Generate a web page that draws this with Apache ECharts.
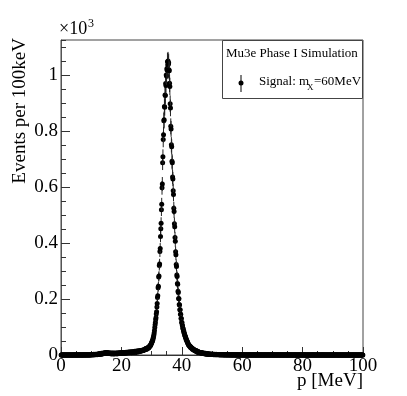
<!DOCTYPE html>
<html>
<head>
<meta charset="utf-8">
<script src="https://cdn.jsdelivr.net/npm/echarts@6/dist/echarts.min.js"></script>
<style>
  html, body { margin: 0; padding: 0; background: #fff; }
  #chart { width: 407px; height: 396px; }
</style>
</head>
<body>
<div id="chart"></div>
<script>
// histogram: 1000 bins of 100 keV from 0 to 100 MeV
const binWidth = 0.1;
const yMax = 1127;

// 0 - 10 MeV
const bg0 = [
  0,0,0,0,0,0,0,0,0,0, 0,0,0,0,0,0,0,0,0,0,
  0,0,0,0,0,0,0,0,0,0, 0,0,0,0,0,0,0,0,0,0,
  0,0,0,0,1,0,0,0,0,0, 0,0,0,0,0,0,0,1,0,0,
  0,0,1,0,0,0,0,1,0,0, 0,0,0,1,0,0,1,0,0,0,
  1,0,0,1,0,0,1,0,1,0, 0,1,0,0,1,1,0,1,0,1
];
// 10 - 28 MeV
const bg1 = [
  1,2,1,1,2,0,2,1,3,1, 2,1,2,3,1,2,2,3,2,1,
  3,2,4,3,2,4,3,5,3,4, 4,5,3,6,4,5,6,4,5,5,
  6,7,5,6,8,5,7,8,6,7, 7,9,6,7,8,6,7,6,7,5,
  7,5,6,7,5,6,4,6,5,7, 5,6,4,5,7,5,6,4,6,5,
  6,5,7,5,6,4,7,6,5,7, 6,5,7,6,8,5,7,6,8,7,
  6,8,7,9,6,8,7,9,8,7, 9,8,6,9,8,10,7,9,8,10,
  9,8,10,9,11,8,10,9,11,10, 9,11,10,8,12,10,9,11,10,12,
  11,10,12,11,13,10,12,11,13,12, 11,14,12,13,11,14,13,12,15,13,
  14,13,15,14,16,15,14,17,15,16, 17,16,18,17,19,18,20,19,21,22
];
// 28 - 46 MeV
const peak = [
  21,23,20,24,22,25,23,26,24,27,
  28,27,30,31,33,32,36,37,40,42,
  45,47,50,53,57,62,66,72,79,88,
  98,108,116,127,133,147,155,172,184,206,
  212,241,246,279,283,320,326,370,381,424,
  452,471,520,539,598,612,688,709,771,788,
  838,842,889,886,930,928,971,964,1002,998,
  1024,1019,1049,1038,1052,1040,1046,1021,1017,972,
  961,899,884,818,809,752,745,693,688,637,
  630,588,574,525,513,470,459,420,407,369,
  359,324,317,286,281,256,253,228,224,202,
  201,181,179,162,162,146,146,131,131,116,
  116,107,104,96,94,87,86,79,78,72,
  70,65,64,58,58,53,52,48,47,43,
  42,38,38,35,35,32,32,29,30,27,
  28,25,26,23,24,21,22,20,21,18,
  19,17,18,16,17,14,16,13,15,12,
  13,11,13,10,12,9,11,10,9,8
];
// 46 - 100 MeV
const tail = [
  9,8,9,7,8,7,8,6,7,6, 7,6,5,6,5,6,4,5,6,4,
  5,4,5,3,4,5,3,4,3,4, 3,4,3,2,3,4,2,3,2,3,
  2,3,2,2,3,1,2,3,2,1, 2,2,1,3,2,1,2,1,2,2,
  1,2,1,2,1,1,2,0,1,2, 1,1,2,1,0,1,2,1,1,0,
  1,1,0,2,1,0,1,1,0,1, 1,0,1,1,0,1,0,1,1,0,
  0,1,1,0,1,0,0,1,0,1, 0,1,0,0,1,0,1,0,0,1,
  0,0,1,0,1,0,0,0,1,0, 0,1,0,0,0,1,0,0,1,0,
  0,0,0,1,0,0,0,0,1,0, 0,0,1,0,0,0,0,0,1,0,
  0,0,0,0,1,0,0,0,0,0, 1,0,0,0,0,0,0,1,0,0,
  0,1,0,0,0,0,0,0,0,1, 0,0,0,0,0,1,0,0,0,0,
  0,0,0,1,0,0,0,0,0,0, 0,0,1,0,0,0,0,0,0,0,
  1,0,0,0,0,0,0,1,0,0, 0,0,0,0,0,0,1,0,0,0,
  0,0,0,0,0,1,0,0,0,0, 0,0,0,0,0,0,0,0,1,0,
  0,0,0,0,0,0,0,0,0,0, 1,0,0,0,0,0,0,0,0,0,
  0,0,0,1,0,0,0,0,0,0, 0,0,0,0,0,0,0,1,0,0,
  0,0,0,0,0,0,0,0,0,0, 0,0,0,0,1,0,0,0,0,0,
  0,0,0,0,0,0,0,0,1,0, 0,0,0,0,0,0,0,0,0,0,
  0,0,0,0,0,1,0,0,0,0, 0,0,0,0,0,0,0,0,0,0,
  0,0,0,0,0,0,0,0,0,0, 0,0,0,1,0,0,0,0,0,0,
  0,0,0,0,0,0,0,0,0,0, 0,0,0,0,0,0,0,0,0,0,
  0,0,0,0,0,0,1,0,0,0, 0,0,0,0,0,0,0,0,0,0,
  0,0,0,0,0,0,0,0,0,0, 0,0,0,0,0,0,0,0,0,0,
  0,0,0,0,0,0,0,0,0,0, 0,1,0,0,0,0,0,0,0,0,
  0,0,0,0,0,0,0,0,0,0, 0,0,0,0,0,0,0,0,0,0,
  0,0,0,0,0,0,0,0,0,0, 0,0,0,0,0,0,0,0,0,0,
  0,0,0,0,0,0,0,0,0,0, 0,0,0,0,0,0,0,0,0,0,
  0,0,0,0,0,0,0,0,0,0, 0,0,0,0,0,0,0,0,0,0
];

const counts = bg0.concat(bg1, peak, tail);
const points = counts.map((n, i) => [binWidth * (i + 0.5), n]);

const serif = 'Liberation Serif';
const chart = echarts.init(document.getElementById('chart'));

function renderBin(params, api) {
  const x = api.value(0);
  const n = api.value(1);
  const p = api.coord([x, n]);
  const err = Math.sqrt(n);
  const hi = api.coord([x, n + err]);
  const lo = api.coord([x, Math.max(0, n - err)]);
  return {
    type: 'group',
    children: [
      {
        type: 'line',
        shape: { x1: p[0], y1: hi[1], x2: p[0], y2: lo[1] },
        style: { stroke: '#222', lineWidth: 1 }
      },
      {
        type: 'circle',
        shape: { cx: p[0], cy: p[1], r: 2.5 },
        style: { fill: '#000' }
      }
    ]
  };
}

chart.setOption({
  animation: false,
  grid: {
    left: 61, right: 44, top: 40, bottom: 41,
    show: true, borderColor: '#444', borderWidth: 1
  },
  xAxis: {
    type: 'value', min: 0, max: 100, interval: 20,
    axisLine: { lineStyle: { color: '#333', width: 1 } },
    axisTick: { inside: true, length: 8, lineStyle: { color: '#333' } },
    minorTick: { show: true, splitNumber: 4, length: 4, lineStyle: { color: '#333' } },
    splitLine: { show: false },
    axisLabel: { fontFamily: serif, fontSize: 19, color: '#000', margin: 2 }
  },
  yAxis: [
    {
      type: 'value', min: 0, max: yMax, interval: 200,
      axisLine: { show: true, lineStyle: { color: '#555', width: 1 } },
      axisTick: { inside: true, length: 9, lineStyle: { color: '#333' } },
      splitLine: { show: false },
      axisLabel: {
        fontFamily: serif, fontSize: 19, color: '#000', margin: 3,
        showMaxLabel: false,
        formatter: v => v === 0 ? '0' : (v === 1000 ? '1' : (v / 1000).toFixed(1))
      }
    },
    {
      type: 'value', min: 0, max: yMax, interval: 50, position: 'left', offset: 0,
      axisLine: { show: false },
      axisTick: { inside: true, length: 5, lineStyle: { color: '#333' } },
      splitLine: { show: false },
      axisLabel: { show: false }
    }
  ],
  series: [{
    type: 'custom',
    renderItem: renderBin,
    encode: { x: 0, y: 1 },
    clip: false,
    data: points
  }],
  graphic: [
    { type: 'text', left: 59, top: 20,
      style: { text: '×10', font: '18px "Liberation Serif"', fill: '#000' } },
    { type: 'text', left: 88, top: 18,
      style: { text: '3', font: '12px "Liberation Serif"', fill: '#000' } },
    { type: 'text', x: 20, y: 38, rotation: Math.PI / 2,
      style: { text: 'Events per 100keV', font: '19px "Liberation Serif"', fill: '#000',
               align: 'right', verticalAlign: 'middle' } },
    { type: 'text', x: 363, y: 381,
      style: { text: 'p [MeV]', font: '19px "Liberation Serif"', fill: '#000',
               align: 'right', verticalAlign: 'middle' } },
    { type: 'rect', shape: { x: 222.5, y: 40.5, width: 140, height: 58 },
      style: { fill: '#fff', stroke: '#444', lineWidth: 1 } },
    { type: 'text', x: 226, y: 54,
      style: { text: 'Mu3e Phase I Simulation', font: '13px "Liberation Serif"', fill: '#000',
               verticalAlign: 'middle' } },
    { type: 'line', shape: { x1: 241, y1: 75, x2: 241, y2: 92 },
      style: { stroke: '#000', lineWidth: 1 } },
    { type: 'circle', shape: { cx: 241, cy: 83, r: 2.5 }, style: { fill: '#000' } },
    { type: 'text', x: 259, y: 82,
      style: { text: 'Signal: m', font: '13px "Liberation Serif"', fill: '#000',
               verticalAlign: 'middle' } },
    { type: 'text', x: 307, y: 88,
      style: { text: 'X', font: '9px "Liberation Serif"', fill: '#000',
               verticalAlign: 'middle' } },
    { type: 'text', x: 314, y: 82,
      style: { text: '=60MeV', font: '13px "Liberation Serif"', fill: '#000',
               verticalAlign: 'middle' } }
  ]
});
</script>
</body>
</html>
